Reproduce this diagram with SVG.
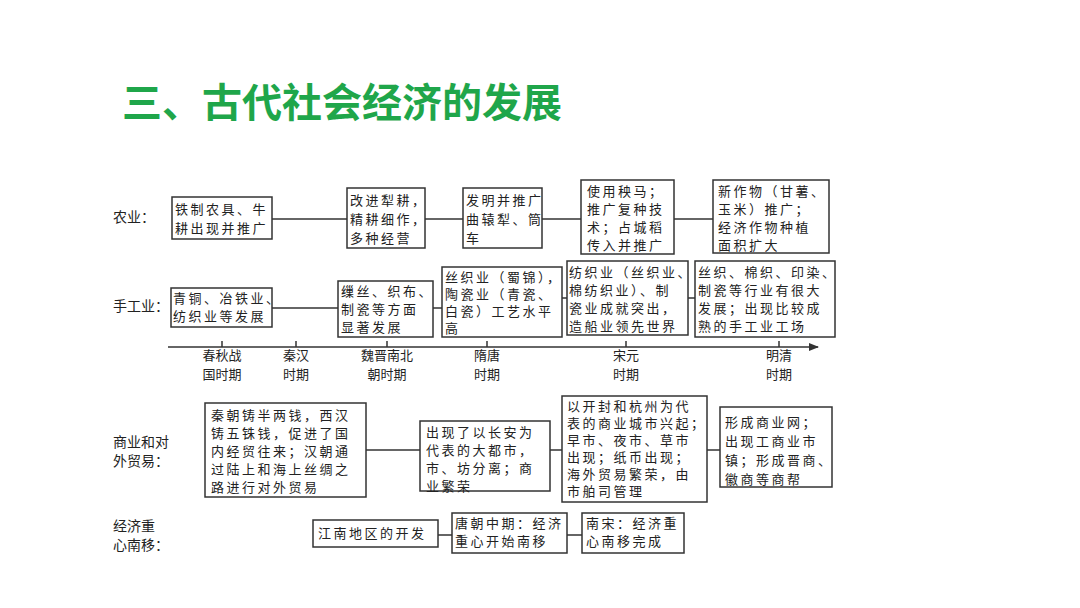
<svg xmlns="http://www.w3.org/2000/svg" width="1080" height="608" viewBox="0 0 1080 608">
<style>
.b{fill:#fff;stroke:#333;stroke-width:1.5}
.t{font-family:"Noto Sans CJK SC",sans-serif;font-size:13px;letter-spacing:2.5px;fill:#222}
.l{font-family:"Noto Sans CJK SC",sans-serif;font-size:14px;fill:#222}
.p{font-family:"Noto Sans CJK SC",sans-serif;font-size:13px;fill:#222;text-anchor:middle}
.c{stroke:#333;stroke-width:1.5;fill:none}
</style>
<defs><marker id="ar" markerWidth="10" markerHeight="8" refX="9" refY="4" orient="auto" markerUnits="userSpaceOnUse"><path d="M0,0 L10,4 L0,8 Z" fill="#333"/></marker></defs>
<rect width="1080" height="608" fill="#fff"/>
<text x="122" y="117" font-family="Noto Sans CJK SC,sans-serif" font-size="40" font-weight="bold" fill="#1fa64a">三、古代社会经济的发展</text>
<g id="connectors">
<line class="c" x1="272" y1="219" x2="713" y2="219"/>
<line class="c" x1="272" y1="308" x2="442" y2="308"/>
<line class="c" x1="562" y1="298" x2="695" y2="298"/>
<line class="c" x1="168" y1="347" x2="818" y2="347" marker-end="url(#ar)"/>
<path class="c" d="M222,347V341M296,347V341M387,347V341M487,347V341M626,347V341M779,347V341"/>
<line class="c" x1="366" y1="450" x2="720" y2="450"/>
<line class="c" x1="438" y1="535" x2="582" y2="535"/>
</g>
<g id="labels">
<text class="l" x="113" y="222">农业：</text>
<text class="l" x="113" y="311">手工业：</text>
<text class="l" x="113" y="447">商业和对</text><text class="l" x="113" y="466">外贸易：</text>
<text class="l" x="113" y="531">经济重</text><text class="l" x="113" y="550">心南移：</text>
<text class="p" x="222" y="360">春秋战</text><text class="p" x="222" y="379">国时期</text>
<text class="p" x="296" y="360">秦汉</text><text class="p" x="296" y="379">时期</text>
<text class="p" x="387" y="360">魏晋南北</text><text class="p" x="387" y="379">朝时期</text>
<text class="p" x="487" y="360">隋唐</text><text class="p" x="487" y="379">时期</text>
<text class="p" x="626" y="360">宋元</text><text class="p" x="626" y="379">时期</text>
<text class="p" x="779" y="360">明清</text><text class="p" x="779" y="379">时期</text>
</g>
<g id="a1"><rect class="b" x="172" y="197" width="100" height="42"/><text class="t" x="175" y="214">铁制农具、牛<tspan x="175" dy="19">耕出现并推广</tspan></text></g>
<g id="a2"><rect class="b" x="347" y="188" width="78" height="60"/><text class="t" x="350" y="205">改进犁耕，<tspan x="350" dy="19">精耕细作，</tspan><tspan x="350" dy="19">多种经营</tspan></text></g>
<g id="a3"><rect class="b" x="463" y="188" width="79" height="60"/><text class="t" x="466" y="205">发明并推广<tspan x="466" dy="19">曲辕犁、筒</tspan><tspan x="466" dy="19">车</tspan></text></g>
<g id="a4"><rect class="b" x="581" y="180" width="93" height="74"/><text class="t" x="587" y="196">使用秧马；<tspan x="587" dy="18">推广复种技</tspan><tspan x="587" dy="18">术；占城稻</tspan><tspan x="587" dy="18">传入并推广</tspan></text></g>
<g id="a5"><rect class="b" x="713" y="180" width="116" height="73"/><text class="t" x="718" y="196" letter-spacing="2">新作物（甘薯、<tspan x="718" dy="18">玉米）推广；</tspan><tspan x="718" dy="18">经济作物种植</tspan><tspan x="718" dy="18">面积扩大</tspan></text></g>
<g id="b1"><rect class="b" x="171" y="288" width="101" height="39"/><text class="t" x="173" y="303" letter-spacing="1">青铜、冶铁业、<tspan x="173" dy="18">纺织业等发展</tspan></text></g>
<g id="b2"><rect class="b" x="338" y="281" width="95" height="56"/><text class="t" x="341" y="296">缫丝、织布、<tspan x="341" dy="18">制瓷等方面</tspan><tspan x="341" dy="18">显著发展</tspan></text></g>
<g id="b3"><rect class="b" x="442" y="267" width="120" height="70"/><text class="t" x="445" y="282" letter-spacing="1.8">丝织业（蜀锦），<tspan x="445" dy="17">陶瓷业（青瓷、</tspan><tspan x="445" dy="17">白瓷）工艺水平</tspan><tspan x="445" dy="17">高</tspan></text></g>
<g id="b4"><rect class="b" x="567" y="261" width="121" height="74"/><text class="t" x="569" y="277" letter-spacing="1.8">纺织业（丝织业、<tspan x="569" dy="18">棉纺织业）、制</tspan><tspan x="569" dy="18">瓷业成就突出，</tspan><tspan x="569" dy="18">造船业领先世界</tspan></text></g>
<g id="b5"><rect class="b" x="695" y="261" width="140" height="76"/><text class="t" x="698" y="277" letter-spacing="2">丝织、棉织、印染、<tspan x="698" dy="18">制瓷等行业有很大</tspan><tspan x="698" dy="18">发展；出现比较成</tspan><tspan x="698" dy="18">熟的手工业工场</tspan></text></g>
<g id="c1"><rect class="b" x="205" y="403" width="161" height="94"/><text class="t" x="211" y="420" letter-spacing="2.2">秦朝铸半两钱，西汉<tspan x="211" dy="18">铸五铢钱，促进了国</tspan><tspan x="211" dy="18">内经贸往来；汉朝通</tspan><tspan x="211" dy="18">过陆上和海上丝绸之</tspan><tspan x="211" dy="18">路进行对外贸易</tspan></text></g>
<g id="c2"><rect class="b" x="420" y="421" width="130" height="70"/><text class="t" x="426" y="437">出现了以长安为<tspan x="426" dy="18">代表的大都市，</tspan><tspan x="426" dy="18">市、坊分离；商</tspan><tspan x="426" dy="18">业繁荣</tspan></text></g>
<g id="c3"><rect class="b" x="562" y="396" width="145" height="106"/><text class="t" x="567" y="411" letter-spacing="2.2">以开封和杭州为代<tspan x="567" dy="17">表的商业城市兴起；</tspan><tspan x="567" dy="17">早市、夜市、草市</tspan><tspan x="567" dy="17">出现；纸币出现；</tspan><tspan x="567" dy="17">海外贸易繁荣，由</tspan><tspan x="567" dy="17">市舶司管理</tspan></text></g>
<g id="c4"><rect class="b" x="720" y="407" width="112" height="80"/><text class="t" x="725" y="427" letter-spacing="1.8">形成商业网；<tspan x="725" dy="19">出现工商业市</tspan><tspan x="725" dy="19">镇；形成晋商、</tspan><tspan x="725" dy="19">徽商等商帮</tspan></text></g>
<g id="d1"><rect class="b" x="313" y="520" width="125" height="27"/><text class="t" x="318" y="538">江南地区的开发</text></g>
<g id="d2"><rect class="b" x="452" y="513" width="115" height="40"/><text class="t" x="455" y="528" letter-spacing="2">唐朝中期：经济<tspan x="455" dy="18">重心开始南移</tspan></text></g>
<g id="d3"><rect class="b" x="582" y="513" width="102" height="40"/><text class="t" x="586" y="528">南宋：经济重<tspan x="586" dy="18">心南移完成</tspan></text></g>
</svg>
